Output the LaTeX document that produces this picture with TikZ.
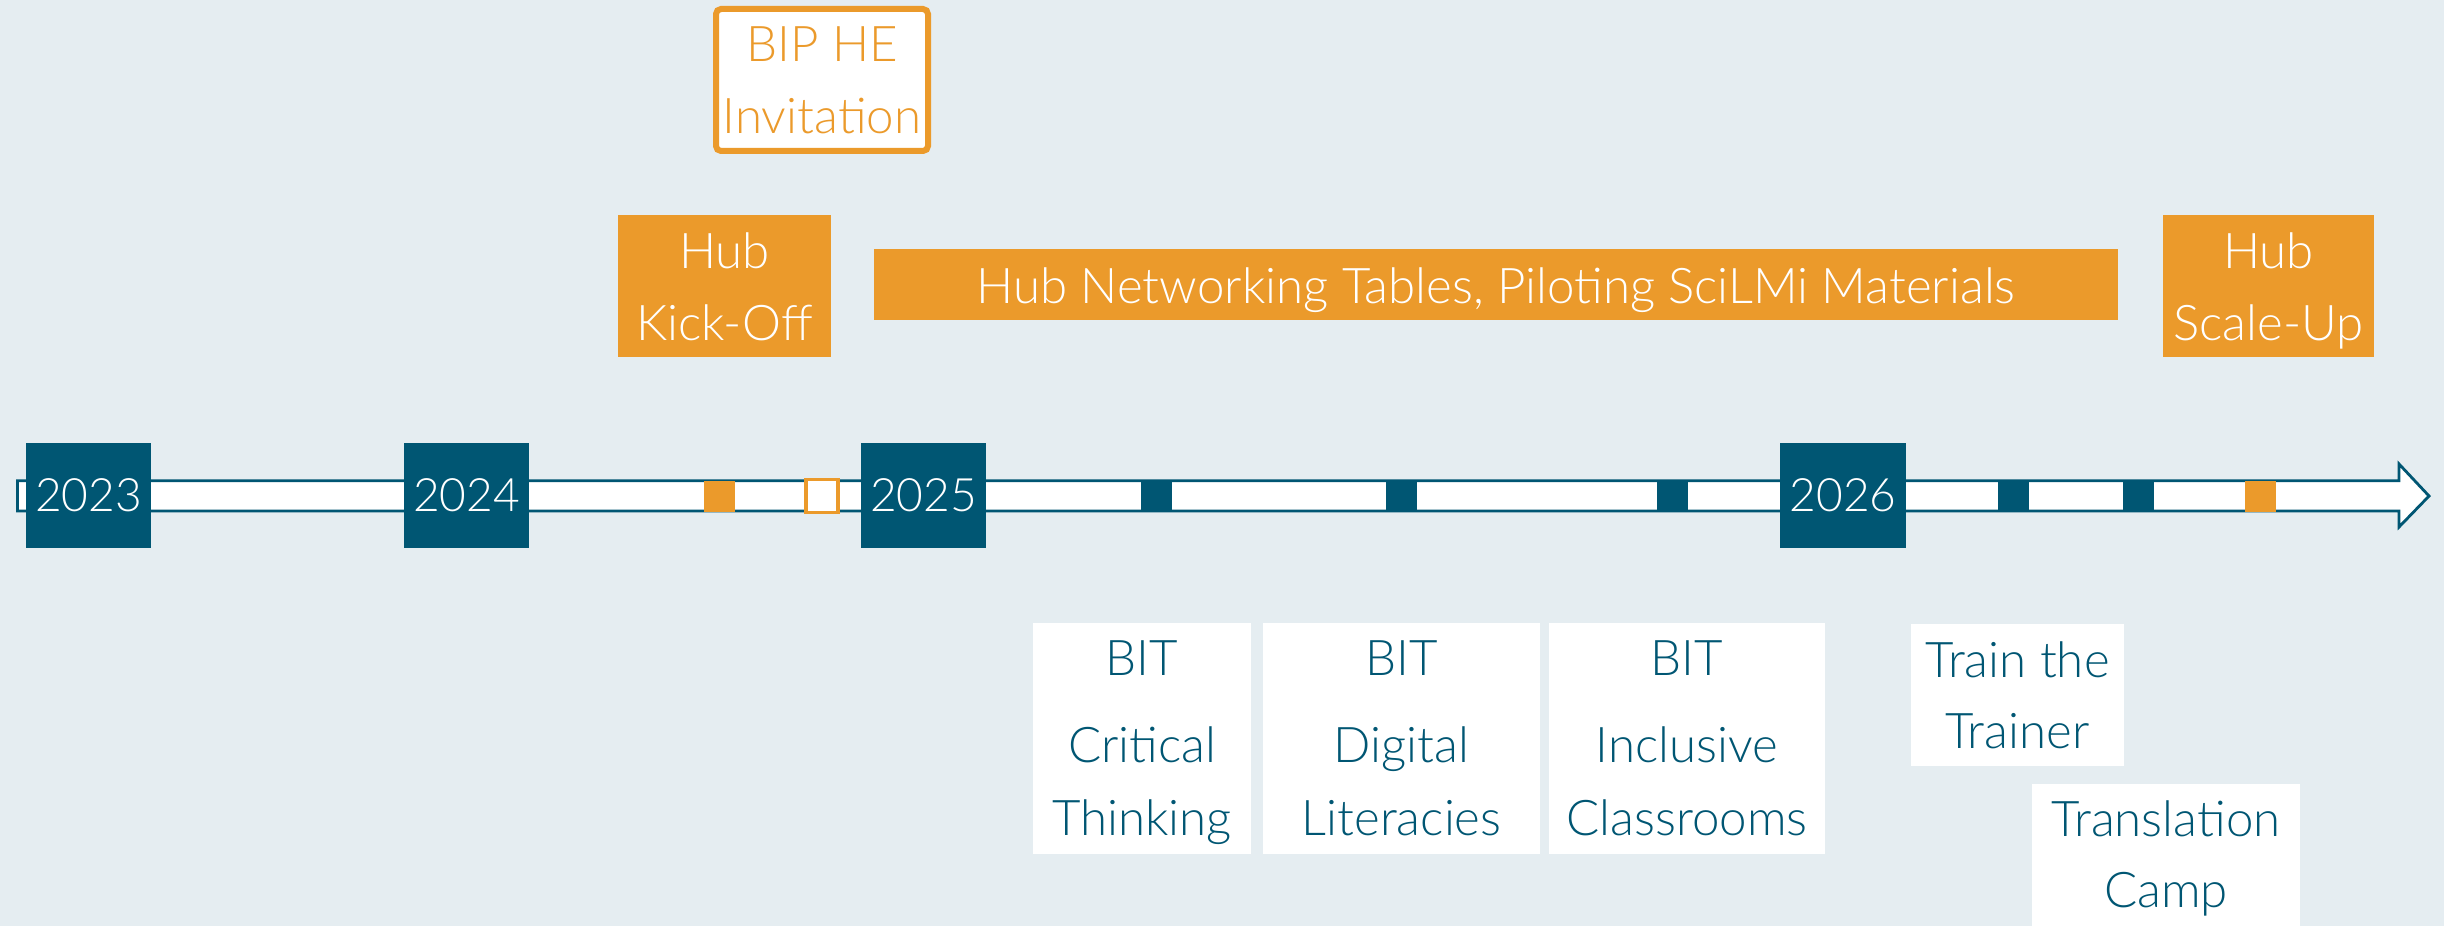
\documentclass[tikz,border=0pt]{standalone}
\usepackage{fontspec}
\setmainfont{Lato Light}
\definecolor{bgc}{RGB}{229,237,241}
\definecolor{tlc}{RGB}{0,86,115}
\definecolor{org}{RGB}{235,154,43}
\newcommand{\lines}[1]{\begin{tabular}[t]{@{}c@{}}#1\end{tabular}}
\begin{document}
\begin{tikzpicture}[x=0.1mm,y=-0.1mm,
  every node/.style={inner sep=0pt, outer sep=0pt},
  txt/.style={anchor=base, font=\fontsize{14}{20.3}\selectfont},
  yearbox/.style={fill=tlc, text=white, minimum width=12.5mm, minimum height=10.5mm,
    font=\fontsize{13.1}{16}\selectfont},
  tick/.style={fill=tlc, minimum width=3.1mm, minimum height=3.1mm},
  otick/.style={fill=org, minimum width=3.1mm, minimum height=3.1mm},
  orgbox/.style={fill=org, text=white},
  whitebox/.style={fill=white, text=tlc}]
\useasboundingbox (0,0) rectangle (2444,926);
\fill[bgc] (0,0) rectangle (2444,926);
\begin{scope}
\clip (0,0) rectangle (2444,926);

% timeline arrow
\draw[tlc, fill=white, line width=0.28mm]
  (17.5,480.7) -- (2399,480.7) -- (2399,464) -- (2429,496) -- (2399,527) -- (2399,510.9)
  -- (17.5,510.9) -- cycle;

% month ticks
\node[tick] (t1) at (1156.5,496.5) {};
\node[tick] (t2) at (1401.5,496.5) {};
\node[tick] (t3) at (1672.5,496.5) {};
\node[tick] (t4) at (2013.5,496.5) {};
\node[tick] (t5) at (2138.5,496.5) {};
\node[otick] (o1) at (719.5,496.5) {};
\node[otick] (o3) at (2260.5,496.5) {};
\node[draw=org, fill=white, line width=0.32mm, minimum width=3.2mm, minimum height=3.3mm] (o2) at (822,496) {};

% years
\node[yearbox] (y23) at (88.5,495.5) {\raisebox{-1.2pt}{2023}};
\node[yearbox] (y24) at (466.5,495.5) {\raisebox{-1.2pt}{2024}};
\node[yearbox] (y25) at (923.5,495.5) {\raisebox{-1.2pt}{2025}};
\node[yearbox, minimum width=12.6mm] (y26) at (1843,495.5) {\raisebox{-1.2pt}{2026}};

% events above the line
\node[draw=org, fill=white, line width=0.6mm, rounded corners=0.5mm,
  minimum width=21.2mm, minimum height=14.2mm] (bip) at (822,80) {};
\node[txt, text=org] (biptxt) at (822,62) {\lines{BIP HE\\Invitation}};

\node[orgbox, minimum width=21.3mm, minimum height=14.2mm] (kick) at (724.5,286) {};
\node[txt, text=white] (kicktxt) at (724.5,268) {\lines{Hub\\[0.3pt]Kick-Off}};

\node[orgbox, minimum width=124.4mm, minimum height=7.1mm] (net) at (1496,284.5) {};
\node[txt, text=white] (nettxt) at (1496,303) {Hub Networking Tables, Piloting SciLMi Materials};

\node[orgbox, minimum width=21.1mm, minimum height=14.2mm] (scale) at (2268.5,286) {};
\node[txt, text=white] (scaletxt) at (2268.5,268) {\lines{Hub\\[0.3pt]Scale-Up}};

% events below the line
\node[whitebox, minimum width=21.8mm, minimum height=23.1mm] (b1) at (1142,738.5) {};
\node[txt, text=tlc] (b1txt) at (1142,675) {\lines{BIT\\[4.7pt]Critical\\[0.5pt]Thinking}};

\node[whitebox, minimum width=27.7mm, minimum height=23.1mm] (b2) at (1401.5,738.5) {};
\node[txt, text=tlc] (b2txt) at (1401.5,675) {\lines{BIT\\[4.7pt]Digital\\[0.5pt]Literacies}};

\node[whitebox, minimum width=27.6mm, minimum height=23.1mm] (b3) at (1687,738.5) {};
\node[txt, text=tlc] (b3txt) at (1687,675) {\lines{BIT\\[4.7pt]Inclusive\\[0.5pt]Classrooms}};

\node[whitebox, minimum width=21.3mm, minimum height=14.2mm] (tt) at (2017.5,695) {};
\node[txt, text=tlc] (tttxt) at (2017.5,677) {\lines{Train the\\Trainer}};

\node[whitebox, minimum width=26.8mm, minimum height=16mm] (tc) at (2166,864) {};
\node[txt, text=tlc] (tctxt) at (2166,836) {\lines{Translation\\Camp}};
\end{scope}
\end{tikzpicture}
\end{document}
